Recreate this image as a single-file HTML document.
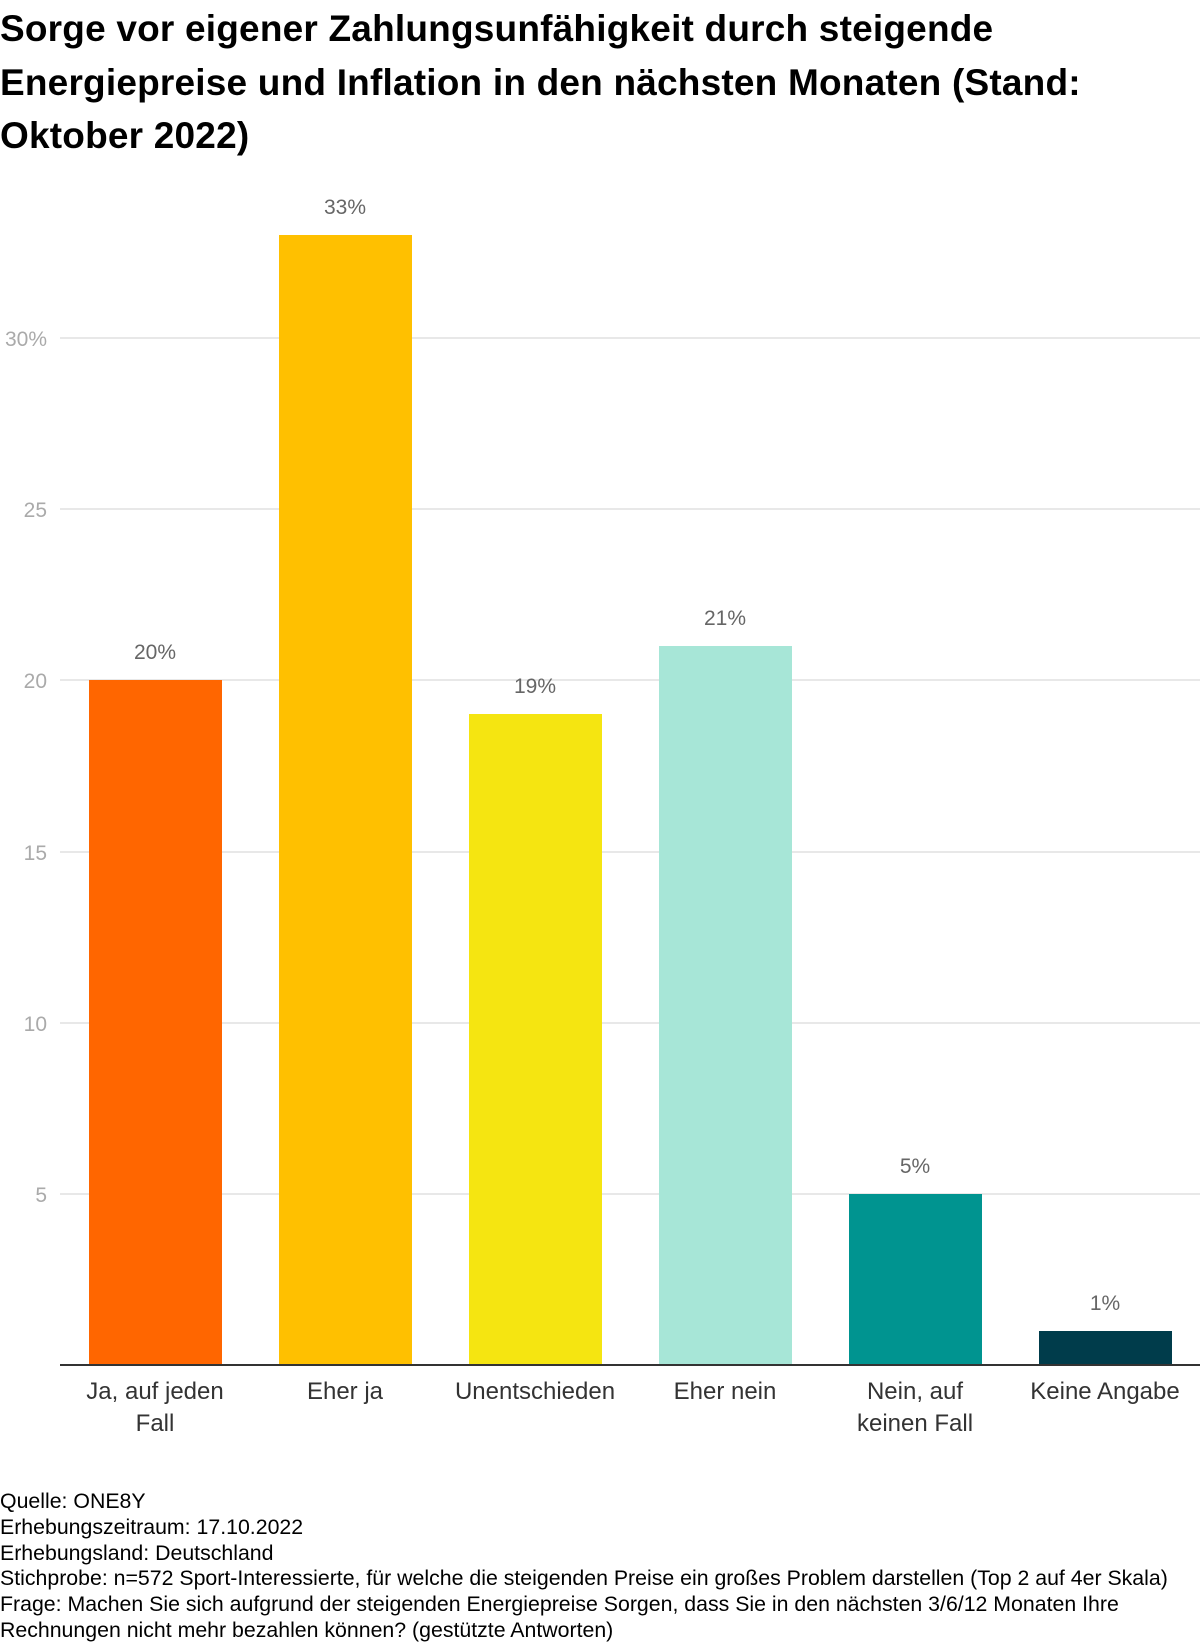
<!DOCTYPE html>
<html><head><meta charset="utf-8"><style>
body{margin:0;background:#fff;width:1200px;height:1646px;position:relative;font-family:"Liberation Sans",sans-serif;overflow:hidden}
.t{position:absolute;left:0;top:2px;font-weight:bold;font-size:37px;line-height:53.5px;color:#000;width:1200px;letter-spacing:0.2px}
.f{position:absolute;left:0;top:1489px;font-size:21.3px;line-height:25.8px;color:#000;white-space:nowrap}
</style></head><body>
<div class="t">Sorge vor eigener Zahlungsunfähigkeit durch steigende<br>Energiepreise und Inflation in den nächsten Monaten (Stand:<br>Oktober 2022)</div>
<svg width="1200" height="1646" style="position:absolute;left:0;top:0" font-family="Liberation Sans, sans-serif">
<g stroke="#e0e0e0" stroke-width="1.5">
<line x1="60" x2="1200" y1="338" y2="338"/><line x1="60" x2="1200" y1="509" y2="509"/><line x1="60" x2="1200" y1="680" y2="680"/><line x1="60" x2="1200" y1="852" y2="852"/><line x1="60" x2="1200" y1="1023" y2="1023"/><line x1="60" x2="1200" y1="1194" y2="1194"/>
</g>
<g font-size="21" fill="#aaa" text-anchor="end">
<text x="47" y="346">30%</text><text x="47" y="517">25</text><text x="47" y="688">20</text><text x="47" y="860">15</text><text x="47" y="1031">10</text><text x="47" y="1202">5</text>
</g>
<rect x="89" y="680" width="133" height="685" fill="#ff6600"/>
<rect x="279" y="235" width="133" height="1130" fill="#ffc000"/>
<rect x="469" y="714" width="133" height="651" fill="#f5e511"/>
<rect x="659" y="646" width="133" height="719" fill="#a7e6d7"/>
<rect x="849" y="1194" width="133" height="171" fill="#009490"/>
<rect x="1039" y="1331" width="133" height="34" fill="#003c4b"/>
<line x1="60" x2="1200" y1="1365" y2="1365" stroke="#333" stroke-width="2"/>
<g font-size="21" fill="#666" text-anchor="middle">
<text x="155" y="659">20%</text><text x="345" y="214">33%</text><text x="535" y="693">19%</text><text x="725" y="625">21%</text><text x="915" y="1173">5%</text><text x="1105" y="1310">1%</text>
</g>
<g font-size="24" fill="#333" text-anchor="middle">
<text x="155" y="1399">Ja, auf jeden</text><text x="155" y="1431">Fall</text>
<text x="345" y="1399">Eher ja</text>
<text x="535" y="1399">Unentschieden</text>
<text x="725" y="1399">Eher nein</text>
<text x="915" y="1399">Nein, auf</text><text x="915" y="1431">keinen Fall</text>
<text x="1105" y="1399">Keine Angabe</text>
</g>
</svg>
<div class="f">Quelle: ONE8Y<br>Erhebungszeitraum: 17.10.2022<br>Erhebungsland: Deutschland<br>Stichprobe: n=572 Sport-Interessierte, für welche die steigenden Preise ein großes Problem darstellen (Top 2 auf 4er Skala)<br>Frage: Machen Sie sich aufgrund der steigenden Energiepreise Sorgen, dass Sie in den nächsten 3/6/12 Monaten Ihre<br>Rechnungen nicht mehr bezahlen können? (gestützte Antworten)</div>
</body></html>
